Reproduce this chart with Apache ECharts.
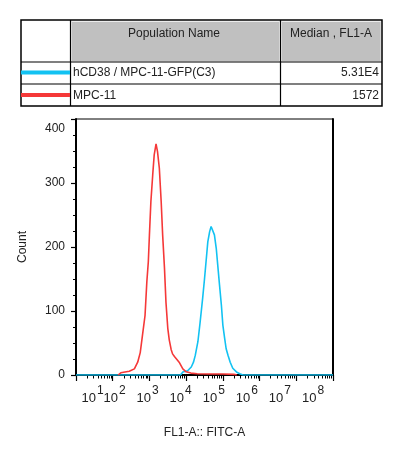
<!DOCTYPE html>
<html>
<head>
<meta charset="utf-8">
<script src="https://cdn.jsdelivr.net/npm/echarts@6/dist/echarts.min.js"></script>
<style>
  html, body { margin: 0; padding: 0; background: #fff; }
  #chart { width: 413px; height: 452px; }
</style>
</head>
<body>
<div id="chart"></div>
<script>
// table rows
var popNames = ['hCD38 / MPC-11-GFP(C3)', 'MPC-11'];
var popMedians = ['5.31E4', '1572'];
var popColors = ['#12c2f2', '#f53838'];

// histogram: hCD38 / MPC-11-GFP(C3)
var blueFitc = [10, 7000, 8128, 10960, 13800, 15850, 17780, 20890, 23990, 28180, 31620,
  35480, 38900, 43650, 47860, 53700, 58880, 66070, 72440, 81280, 91200, 100000,
  112200, 123000, 138000, 158500, 186200, 234400, 288400, 354800, 1e8];
var blueCount = [0, 0, 4.8, 6.7, 12.5, 20, 31, 52, 82, 120, 150,
  182, 208, 224, 232, 229, 219, 198, 172, 140, 109, 78,
  57, 41, 31, 20, 10.5, 4.8, 2, 0, 0];

// histogram: MPC-11
var redFitc = [140, 166, 282, 389, 479, 562, 646, 759, 851, 933, 1000, 1096, 1230,
  1349, 1514, 1660, 1862, 2089, 2291, 2570, 2818, 3162, 3467, 3900, 4266, 4800,
  5370, 6607, 8128, 10000, 13490, 20000, 40000, 100000, 200000, 240000];
var redCount = [0, 3.4, 5.8, 9.6, 20, 35, 62, 93, 146, 177, 219, 271, 313,
  344, 361, 349, 323, 271, 219, 167, 114, 73, 55, 40, 33, 29,
  27, 19, 9.6, 5, 3, 2, 1.5, 1.5, 1, 0];

// ticks
var decades = [10, 100, 1000, 1e4, 1e5, 1e6, 1e7, 1e8];
var yTicks = [0, 100, 200, 300, 400];

var minorTicks = [];
for (var d = 0; d < decades.length - 1; d++) {
  for (var m = 2; m <= 9; m++) minorTicks.push(m * decades[d]);
}

var FONT = '"Liberation Sans", Arial, sans-serif';

function pairs(xs, ys) {
  var out = [];
  for (var i = 0; i < xs.length; i++) out.push([xs[i], ys[i]]);
  return out;
}

// table drawn with graphic elements
var graphic = [];
graphic.push({ type: 'rect', shape: { x: 71.5, y: 21.5, width: 208, height: 40 },
  style: { fill: '#c0c0c0', stroke: '#ececec', lineWidth: 1 } });
graphic.push({ type: 'rect', shape: { x: 281.5, y: 21.5, width: 99.5, height: 40 },
  style: { fill: '#c0c0c0', stroke: '#ececec', lineWidth: 1 } });
graphic.push({ type: 'rect', shape: { x: 21, y: 20, width: 361, height: 86 },
  style: { fill: 'none', stroke: '#000', lineWidth: 1.5 } });
[62, 84].forEach(function (y) {
  graphic.push({ type: 'line', shape: { x1: 21, y1: y, x2: 382, y2: y },
    style: { stroke: '#000', lineWidth: 1.2 } });
});
[70.5, 280.5].forEach(function (x) {
  graphic.push({ type: 'line', shape: { x1: x, y1: 20, x2: x, y2: 106 },
    style: { stroke: '#000', lineWidth: 1.2 } });
});
graphic.push({ type: 'text', style: { text: 'Population Name', x: 174, y: 34,
  font: '12px ' + FONT, fill: '#222', align: 'center', verticalAlign: 'middle' } });
graphic.push({ type: 'text', style: { text: 'Median , FL1-A', x: 331, y: 34,
  font: '12px ' + FONT, fill: '#222', align: 'center', verticalAlign: 'middle' } });
for (var r = 0; r < popNames.length; r++) {
  var cy = 73 + r * 22.5;
  graphic.push({ type: 'line', shape: { x1: 21, y1: cy - 0.5, x2: 70, y2: cy - 0.5 },
    style: { stroke: popColors[r], lineWidth: 4 } });
  graphic.push({ type: 'text', style: { text: popNames[r], x: 73, y: cy,
    font: '12px ' + FONT, fill: '#222', align: 'left', verticalAlign: 'middle' } });
  graphic.push({ type: 'text', style: { text: popMedians[r], x: 379, y: cy,
    font: '12px ' + FONT, fill: '#222', align: 'right', verticalAlign: 'middle' } });
}

var chart = echarts.init(document.getElementById('chart'), null, { renderer: 'canvas' });

var option = {
  animation: false,
  backgroundColor: '#fff',
  textStyle: { fontFamily: FONT },
  graphic: graphic,
  grid: { left: 76, top: 119, width: 257, height: 256, show: true,
    borderColor: '#000', borderWidth: 1, backgroundColor: 'transparent' },
  xAxis: [
    {
      type: 'log', logBase: 10, min: 10, max: 1e8, position: 'bottom',
      axisLine: { show: true, lineStyle: { color: '#000', width: 2 } },
      axisTick: { show: true, length: 6, customValues: decades, lineStyle: { color: '#000', width: 1.2 } },
      axisLabel: { show: false, customValues: decades },
      splitLine: { show: false }
    },
    {
      // minor log ticks
      type: 'log', logBase: 10, min: 10, max: 1e8, position: 'bottom',
      axisLine: { show: true, lineStyle: { color: 'rgba(0,0,0,0)', width: 1 } },
      axisTick: { show: true, length: 3.5, customValues: minorTicks, lineStyle: { color: '#000', width: 1 } },
      axisLabel: { show: false, customValues: minorTicks },
      splitLine: { show: false }
    },
    {
      // label row, spaced the way the source plot spaces it
      type: 'log', logBase: 10, min: 6.855, max: 4.027e8, position: 'bottom',
      axisLine: { show: false }, axisTick: { show: false }, splitLine: { show: false },
      name: 'FL1-A:: FITC-A', nameLocation: 'middle', nameGap: 52,
      nameTextStyle: { fontSize: 12, color: '#222', fontFamily: FONT },
      axisLabel: {
        customValues: decades, margin: 10, alignMinLabel: 'left',
        formatter: function (v) {
          return '{b|10}{s|' + Math.round(Math.log10(v)) + '}';
        },
        rich: {
          b: { fontSize: 13, lineHeight: 19.5, verticalAlign: 'bottom', color: '#222', fontFamily: FONT },
          s: { fontSize: 12, lineHeight: 12, verticalAlign: 'top', padding: [0, 0, 0, 1], color: '#222', fontFamily: FONT }
        }
      }
    }
  ],
  yAxis: [
    {
      type: 'value', min: 0, max: 400, interval: 100, position: 'left',
      axisLine: { show: true, lineStyle: { color: '#000', width: 2 } },
      axisTick: { show: true, length: 5, lineStyle: { color: '#000', width: 1.2 } },
      minorTick: { show: true, splitNumber: 4, length: 3, lineStyle: { color: '#000', width: 1 } },
      splitLine: { show: false },
      name: 'Count', nameLocation: 'middle', nameGap: 47, nameRotate: 90,
      nameTextStyle: { fontSize: 12, color: '#222', fontFamily: FONT },
      axisLabel: {
        fontSize: 12, color: '#222', margin: 11, fontFamily: FONT,
        customValues: yTicks,
        verticalAlignMaxLabel: 'top',
        formatter: function (v) { return v === 400 ? '{t|400}' : String(v); },
        rich: { t: { fontSize: 12, color: '#222', padding: [4, 0, 0, 0], fontFamily: FONT } }
      }
    },
    {
      type: 'value', min: 0, max: 400, position: 'right',
      axisLine: { show: true, lineStyle: { color: '#000', width: 2 } },
      axisTick: { show: false }, axisLabel: { show: false }, splitLine: { show: false }
    }
  ],
  series: [
    {
      name: popNames[0], type: 'line', xAxisIndex: 0, yAxisIndex: 0,
      data: pairs(blueFitc, blueCount), showSymbol: false, z: 3,
      lineStyle: { color: popColors[0], width: 1.6 }, itemStyle: { color: popColors[0] }
    },
    {
      name: popNames[1], type: 'line', xAxisIndex: 0, yAxisIndex: 0,
      data: pairs(redFitc, redCount), showSymbol: false, z: 4,
      lineStyle: { color: popColors[1], width: 1.6 }, itemStyle: { color: popColors[1] }
    }
  ]
};

chart.setOption(option);
</script>
</body>
</html>
